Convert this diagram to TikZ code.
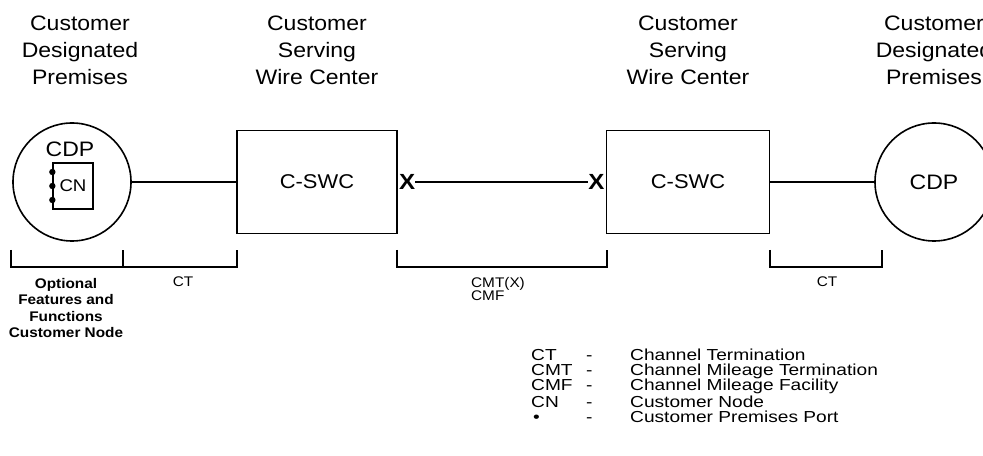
\documentclass[tikz,border=0pt]{standalone}
\usepackage{fontspec}
\setmainfont[FakeStretch=1.1]{Liberation Sans}
\newfontfamily\legendfont[FakeStretch=1.2]{Liberation Sans}
\usetikzlibrary{positioning}
\begin{document}
\begin{tikzpicture}[x=1bp,y=-1bp,
	title/.style={align=center,font=\fontsize{21}{27}\selectfont},
	unit/.style={draw,line width=1.6bp,font=\fontsize{20}{22}\selectfont},
	small/.style={font=\fontsize{14}{16}\selectfont},
	legend/.style={anchor=base west,inner sep=0pt,font=\legendfont\fontsize{16}{18}\selectfont}]
	\useasboundingbox (0,0) rectangle (983,456);
	
	\node[title] at (80,50) (tCDPl) {Customer\\Designated\\Premises};
	\node[title] at (317,50) (tSWCl) {Customer\\Serving\\Wire Center};
	\node[title] at (688,50) (tSWCr) {Customer\\Serving\\Wire Center};
	\node[title] at (934,50) (tCDPr) {Customer\\Designated\\Premises};
	
	\node[unit,circle,minimum size=118bp,inner sep=0pt] at (72,182) (CDPl) {};
	\node[font=\fontsize{21}{24}\selectfont] at (70,149) (CDPllab) {CDP};
	\node[unit,line width=1.3bp,minimum width=40bp,minimum height=46bp,inner sep=0pt,font=\fontsize{17}{20}\selectfont] at (73,186) (CN) {CN};
	\fill ([yshift=-14bp]CN.west) circle (3.2bp);
	\fill (CN.west) circle (3.2bp);
	\fill ([yshift=14bp]CN.west) circle (3.2bp);
	
	\node[unit,minimum width=160bp,minimum height=103bp] at (317,182) (SWCl) {C-SWC};
	\node[unit,minimum width=163bp,minimum height=103bp] at (688,182) (SWCr) {C-SWC};
	\node[unit,circle,minimum size=118bp,inner sep=0pt,font=\fontsize{21}{24}\selectfont] at (934,182) (CDPr) {CDP};
	
	\node[inner sep=0pt,font=\fontsize{22}{24}\bfseries,right=1bp of SWCl] (Xl) {X};
	\node[inner sep=0pt,font=\fontsize{22}{24}\bfseries,left=1bp of SWCr] (Xr) {X};
	
	\draw[line width=1.5bp] (CDPl) -- (SWCl);
	\draw[line width=1.5bp] (Xl) -- (Xr);
	\draw[line width=1.5bp] (SWCr) -- (CDPr);
	
	\draw[line width=1.5bp] (11,250) |- (123,267) -- (123,250);
	\draw[line width=1.5bp] (123,267) -| (237,250);
	\draw[line width=1.5bp] (397,250) |- (607,267) -- (607,250);
	\draw[line width=1.5bp] (770,250) |- (882,267) -- (882,250);
	
	\node[small,align=center,font=\fontsize{14}{16.7}\bfseries] at (66,308) (opt) {Optional\\Features and\\Functions\\Customer Node};
	\node[small] at (183,282) (CTl) {CT};
	\node[small,align=left,font=\fontsize{14}{14}\selectfont] at (498,289) (CMT) {CMT(X)\\CMF};
	\node[small] at (827,282) (CTr) {CT};
	
	\node[legend] at (531,361) (ab1) {CT};
	\node[legend] at (586,361) (da1) {-};
	\node[legend] at (630,361) (de1) {Channel Termination};
	\node[legend] at (531,376) (ab2) {CMT};
	\node[legend] at (586,376) (da2) {-};
	\node[legend] at (630,376) (de2) {Channel Mileage Termination};
	\node[legend] at (531,391) (ab3) {CMF};
	\node[legend] at (586,391) (da3) {-};
	\node[legend] at (630,391) (de3) {Channel Mileage Facility};
	\node[legend] at (531,407) (ab4) {CN};
	\node[legend] at (586,407) (da4) {-};
	\node[legend] at (630,407) (de4) {Customer Node};
	\node[legend] at (533,422) (ab5) {\textbullet};
	\node[legend] at (586,422) (da5) {-};
	\node[legend] at (630,422) (de5) {Customer Premises Port};
\end{tikzpicture}
\end{document}
